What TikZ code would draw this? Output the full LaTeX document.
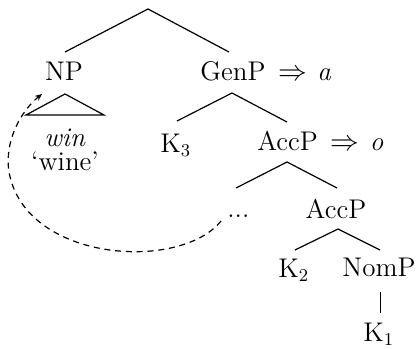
\documentclass[tikz,border=0pt]{standalone}
\usetikzlibrary{arrows.meta}
\begin{document}
\begin{tikzpicture}[x=0.5pt,y=-0.5pt,
  lbl/.style={inner sep=0pt, font=\fontsize{13.5}{15}\selectfont, anchor=base},
  lblw/.style={lbl, anchor=base west},
  br/.style={line width=0.6pt},
  mv/.style={line width=0.6pt, dash pattern=on 3pt off 2.4pt, -{Stealth[length=3.5pt,width=3pt]}}]
\useasboundingbox (0,0) rectangle (417,348);
% labels
\node[lbl] (NP) at (64,80) {NP};
\node[lblw] (GenP) at (200,80) {GenP\hspace{6.5pt}$\Rightarrow$\hspace{5pt}\textit{a}};
\node[lbl] (win) at (65,146) {\textit{win}};
\node[lbl] (wine) at (65,170) {`wine'};
\node[lblw] (K3) at (160,152) {K$_3$};
\node[lblw] (AccP) at (257,150) {AccP\hspace{6.5pt}$\Rightarrow$\hspace{5pt}\textit{o}};
\node[lblw] (dots) at (227,217) {...};
\node[lbl] (AccPb) at (336,218) {AccP};
\node[lblw] (K2) at (278,277) {K$_2$};
\node[lbl] (NomP) at (379,276) {NomP};
\node[lblw] (K1) at (363,341) {K$_1$};
% branch points
\coordinate (root) at (148,9);
\coordinate (npL) at (65,52);
\coordinate (genR) at (229,52);
\coordinate (genA) at (232,93);
\coordinate (k3T) at (177,121);
\coordinate (accT) at (287,122);
\coordinate (accA) at (287,162);
\coordinate (dotT) at (236,188);
\coordinate (accbT) at (337,188);
\coordinate (accbA) at (338,229);
\coordinate (k2T) at (295,250);
\coordinate (nomT) at (380,250);
\coordinate (nomB) at (380.5,292);
\coordinate (k1T) at (380.5,313);
\coordinate (triA) at (65,94);
\coordinate (triL) at (26,115);
\coordinate (triR) at (104,115);
\coordinate (mvS) at (221,221);
\coordinate (mvM) at (9,172);
\coordinate (mvE) at (42,94);
% tree
\draw[br] (npL) -- (root) -- (genR);
\draw[br] (k3T) -- (genA) -- (accT);
\draw[br] (dotT) -- (accA) -- (accbT);
\draw[br] (k2T) -- (accbA) -- (nomT);
\draw[br] (nomB) -- (k1T);
\draw[br] (triA) -- (triL) -- (triR) -- cycle;
% movement arrow
\draw[mv] (mvS) .. controls (180,272) and (25,262) .. (mvM) .. controls (4,140) and (22,110) .. (mvE);
\end{tikzpicture}
\end{document}
